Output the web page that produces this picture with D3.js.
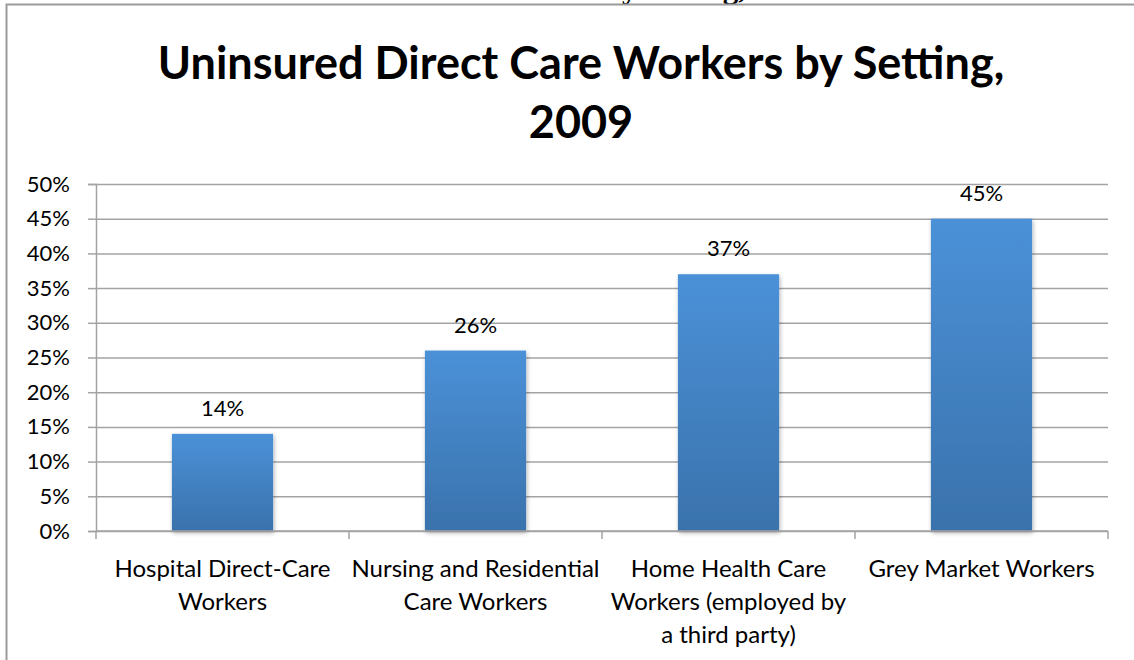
<!DOCTYPE html>
<html>
<head>
<meta charset="utf-8">
<script src="https://cdn.jsdelivr.net/npm/d3@7"></script>
<style>
  html, body { margin: 0; padding: 0; background: #fff; }
  svg { display: block; }
  text { font-family: Lato, "Open Sans", sans-serif; fill: #000; }
</style>
</head>
<body>
<script>
const WIDTH = 1134
const HEIGHT = 660

// data
const categories = [
    'Hospital Direct-Care\nWorkers',
    'Nursing and Residential\nCare Workers',
    'Home Health Care\nWorkers (employed by\na third party)',
    'Grey Market Workers'
]
const uninsured = [14, 26, 37, 45]
const yTicks = [0, 5, 10, 15, 20, 25, 30, 35, 40, 45, 50]
const titleLines = ['Uninsured Direct Care Workers by Setting,', '2009']

const LEFT = 96
const RIGHT = 1108
const TOP = 184
const BOTTOM = 531

const svg = d3.select('body')
    .append('svg')
    .attr('width', WIDTH)
    .attr('height', HEIGHT)

const defs = svg.append('defs')
const grad = defs.append('linearGradient')
    .attr('id', 'barGrad')
    .attr('x1', 0).attr('y1', 0).attr('x2', 0).attr('y2', 1)
grad.append('stop').attr('offset', '0%').attr('stop-color', '#4b91d8')
grad.append('stop').attr('offset', '100%').attr('stop-color', '#3a72ac')

const shadow = defs.append('filter')
    .attr('id', 'shadow')
    .attr('x', '-10%').attr('y', '-10%').attr('width', '130%').attr('height', '130%')
shadow.append('feDropShadow')
    .attr('dx', 1).attr('dy', 2).attr('stdDeviation', 2)
    .attr('flood-color', '#000').attr('flood-opacity', 0.3)

// heading of the page above, cut off by the top edge
const cut = svg.append('text')
    .text('Uninsured Direct Care Workers by Setting, 2009')
    .attr('y', -2)
    .style('font-family', '"Liberation Serif", serif')
    .style('font-weight', 'bold')
    .style('font-size', '31px')
const yIdx = cut.text().indexOf('by') + 1
const yPos = cut.node().getStartPositionOfChar(yIdx).x
cut.attr('x', 622 - yPos)

// frame
svg.append('path')
    .attr('d', `M6.5,${HEIGHT} V4.5 H${WIDTH}`)
    .attr('fill', 'none')
    .attr('stroke', '#9a9a9a')
    .attr('stroke-width', 2)

const x = d3.scaleBand()
    .domain(categories)
    .range([LEFT, RIGHT])
    .paddingInner(0.6)
    .paddingOuter(0.3)

const y = d3.scaleLinear()
    .domain([0, 50])
    .range([BOTTOM, TOP])

// gridlines
svg.append('g')
    .attr('transform', `translate(${LEFT},0)`)
    .call(d3.axisLeft(y).tickValues(yTicks).tickSize(-(RIGHT - LEFT)).tickFormat(''))
    .call(g => g.select('.domain').remove())
    .call(g => g.selectAll('line').attr('stroke', '#a3a3a3').attr('stroke-width', 1.5))

// y axis
svg.append('g')
    .attr('transform', `translate(${LEFT},0)`)
    .call(d3.axisLeft(y).tickValues(yTicks).tickSize(8).tickPadding(18).tickFormat(d => d + '%'))
    .call(g => g.select('.domain').attr('stroke', '#a3a3a3').attr('stroke-width', 1.5))
    .call(g => g.selectAll('line').attr('stroke', '#a3a3a3').attr('stroke-width', 1.5))
    .call(g => g.selectAll('text').style('font-size', '22px').style('font-family', 'Lato, sans-serif').attr('fill', '#000'))

// bars
svg.append('g')
    .selectAll('rect')
    .data(uninsured)
    .join('rect')
    .attr('x', (d, i) => x(categories[i]))
    .attr('width', x.bandwidth())
    .attr('y', d => y(d))
    .attr('height', d => y(0) - y(d))
    .attr('fill', 'url(#barGrad)')
    .attr('filter', 'url(#shadow)')

// value labels
svg.append('g')
    .selectAll('text')
    .data(uninsured)
    .join('text')
    .attr('x', (d, i) => x(categories[i]) + x.bandwidth() / 2)
    .attr('y', d => y(d) - 18)
    .attr('text-anchor', 'middle')
    .style('font-size', '22px')
    .text(d => d + '%')

// x axis line and boundary ticks
const xAxis = svg.append('g')
xAxis.append('line')
    .attr('x1', LEFT).attr('x2', RIGHT)
    .attr('y1', y(0)).attr('y2', y(0))
    .attr('stroke', '#a3a3a3').attr('stroke-width', 1.5)
xAxis.selectAll('line.tick')
    .data(d3.range(categories.length + 1))
    .join('line')
    .attr('class', 'tick')
    .attr('x1', i => LEFT + i * x.step())
    .attr('x2', i => LEFT + i * x.step())
    .attr('y1', y(0))
    .attr('y2', y(0) + 8)
    .attr('stroke', '#a3a3a3').attr('stroke-width', 1.5)

// category labels
svg.append('g')
    .selectAll('text')
    .data(categories)
    .join('text')
    .attr('text-anchor', 'middle')
    .style('font-size', '24px')
    .each(function (d) {
        const cx = x(d) + x.bandwidth() / 2
        d.split('\n').forEach((line, j) => {
            d3.select(this).append('tspan')
                .attr('x', cx)
                .attr('y', 577 + j * 33)
                .text(line)
        })
    })

// title
svg.append('g')
    .selectAll('text')
    .data(titleLines)
    .join('text')
    .attr('x', 581)
    .attr('y', (d, i) => 79 + i * 59)
    .attr('text-anchor', 'middle')
    .style('font-size', '45px')
    .style('font-weight', 'bold')
    .text(d => d)
</script>
</body>
</html>
